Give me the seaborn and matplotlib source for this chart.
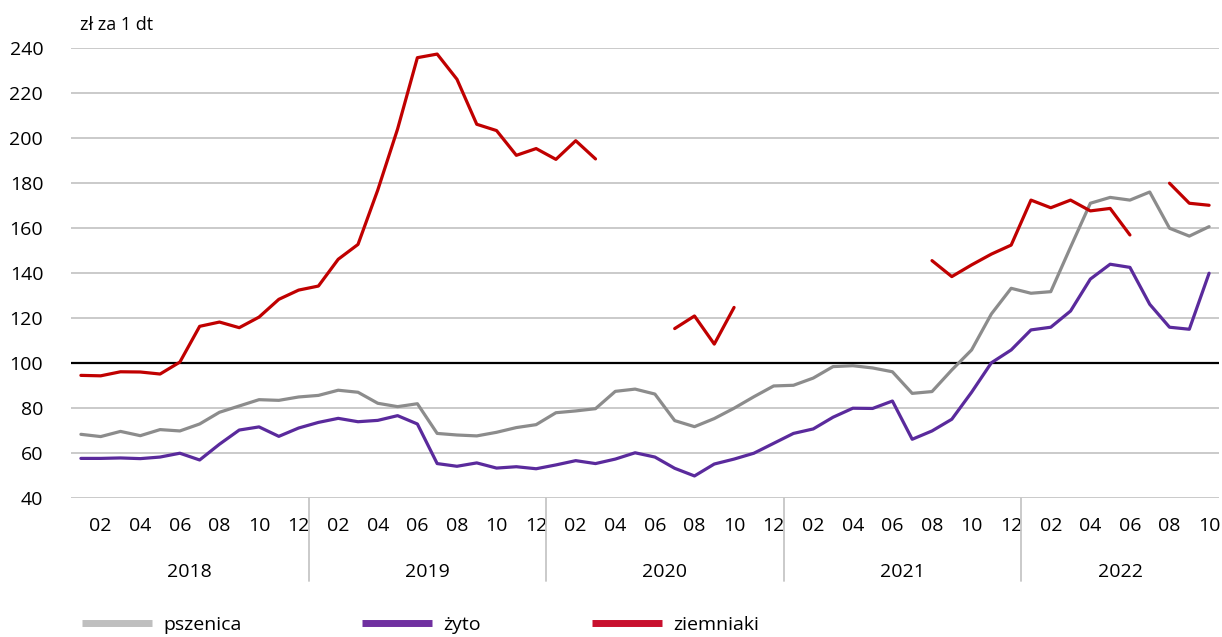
import numpy as np
import pandas as pd
import seaborn as sns
import matplotlib.pyplot as plt
from matplotlib.lines import Line2D

nan = np.nan

# monthly prices 2018-01 .. 2022-10 (zł za 1 dt)
years = [2018, 2019, 2020, 2021, 2022]
months = [f"{y}-{m:02d}" for y in years for m in range(1, 13)][:58]

pszenica = [68.3, 67.3, 69.6, 67.7, 70.4, 69.8, 72.9, 78.1, 80.9, 83.7, 83.4, 84.9,
            85.6, 87.9, 87.0, 82.1, 80.6, 81.9, 68.7, 68.0, 67.6, 69.2, 71.3, 72.6,
            77.9, 78.7, 79.7, 87.4, 88.4, 86.2, 74.4, 71.7, 75.3, 79.9, 85.0, 89.8,
            90.1, 93.3, 98.4, 98.8, 97.8, 96.1, 86.5, 87.3, 96.9, 105.8, 121.8, 133.2,
            131.0, 131.7, 151.5, 171.0, 173.6, 172.4, 176.0, 159.9, 156.4, 160.6]

zyto = [57.6, 57.6, 57.8, 57.5, 58.2, 59.9, 56.9, 63.9, 70.2, 71.6, 67.4, 71.1,
        73.6, 75.4, 73.9, 74.5, 76.6, 72.9, 55.3, 54.1, 55.6, 53.3, 53.9, 53.0,
        54.7, 56.6, 55.3, 57.3, 60.1, 58.2, 53.2, 49.8, 55.1, 57.3, 59.9, 64.3,
        68.7, 70.7, 75.9, 79.9, 79.8, 83.1, 66.1, 69.8, 75.0, 87.0, 100.1, 105.8,
        114.7, 115.9, 123.1, 137.3, 143.9, 142.5, 126.1, 115.9, 115.0, 139.9]

ziemniaki = [94.5, 94.3, 96.1, 96.0, 95.1, 100.4, 116.3, 118.2, 115.7, 120.4, 128.3, 132.4,
             134.2, 146.1, 152.7, 176.9, 204.0, 235.7, 237.3, 226.1, 206.1, 203.3, 192.3, 195.3,
             190.5, 198.8, 190.7, nan, nan, nan, 115.3, 120.9, 108.4, 124.7, nan, nan,
             nan, nan, nan, nan, nan, nan, nan, 145.5, 138.4, 143.6, 148.4, 152.4,
             172.4, 169.0, 172.4, 167.6, 168.7, 156.9, nan, 179.9, 171.0, 170.1]

names = ["pszenica", "żyto", "ziemniaki"]
line_colors = {"pszenica": "#8C8C8C", "żyto": "#5A2A9C", "ziemniaki": "#C00000"}
legend_colors = {"pszenica": "#BFBFBF", "żyto": "#7030A0", "ziemniaki": "#C8102E"}

rows = []
for name, vals in zip(names, [pszenica, zyto, ziemniaki]):
    seg = 0
    prev_nan = True
    for i, v in enumerate(vals):
        if np.isnan(v):
            prev_nan = True
            continue
        if prev_nan:
            seg += 1
            prev_nan = False
        rows.append({"i": i, "value": v, "series": name, "seg": f"{name}_{seg}"})
df = pd.DataFrame(rows)

sns.set_theme(style="white")
plt.rcParams["font.family"] = ["Open Sans", "DejaVu Sans"]
plt.rcParams["text.color"] = "black"
plt.rcParams["xtick.color"] = "black"
plt.rcParams["ytick.color"] = "black"

fig = plt.figure(figsize=(12.22, 6.37), dpi=100)
ax = fig.add_axes([71 / 1222, 139 / 637, 1148 / 1222, 450 / 637])

for y in range(40, 241, 20):
    ax.axhline(y, color="#C6C6C6", lw=1.3, zorder=0)
ax.axhline(100, color="black", lw=1.6, zorder=1)

sns.lineplot(data=df, x="i", y="value", hue="series", units="seg", estimator=None,
             palette=line_colors, hue_order=names, lw=2.3, legend=False, ax=ax, zorder=3)

ax.set_xlim(-0.5, 57.5)
ax.set_ylim(40, 240)
ax.set_yticks(range(40, 241, 20))
ax.tick_params(axis="y", labelsize=14, length=0, pad=20, labelcolor="black")
for sp in ax.spines.values():
    sp.set_visible(False)
ax.set_xlabel("")
ax.set_ylabel("")

# month ticks (even months only)
ticks = [i for i in range(len(months)) if int(months[i][5:]) % 2 == 0]
ax.set_xticks(ticks)
ax.set_xticklabels([months[i][5:] for i in ticks])
ax.tick_params(axis="x", labelsize=14, length=0, pad=14, labelcolor="black")

# year labels and separators
trans = ax.get_xaxis_transform()
for k, yr in enumerate(years):
    idx = [i for i in range(len(months)) if months[i].startswith(str(yr))]
    ax.text((idx[0] + idx[-1]) / 2, -0.165, str(yr), transform=trans,
            ha="center", va="center", fontsize=14, color="black")
    if k > 0:
        ax.plot([idx[0] - 0.5, idx[0] - 0.5], [0, -0.185], transform=trans,
                color="#C6C6C6", lw=1.3, clip_on=False)

fig.text(80 / 1222, 1 - 25 / 637, "zł za 1 dt", fontsize=13, va="center", ha="left",
         color="black")

# legend, one entry at a time
for name, x0 in zip(names, [82, 362, 592]):
    h = Line2D([0], [0], color=legend_colors[name], lw=5, solid_capstyle="butt")
    leg = fig.legend([h], [name], loc="center left", bbox_to_anchor=(x0 / 1222, 12 / 637),
                     frameon=False, fontsize=14, handlelength=3.6, handletextpad=0.6,
                     borderaxespad=0, borderpad=0)
    for t in leg.get_texts():
        t.set_color("black")

fig.savefig("out.png", dpi=100)
